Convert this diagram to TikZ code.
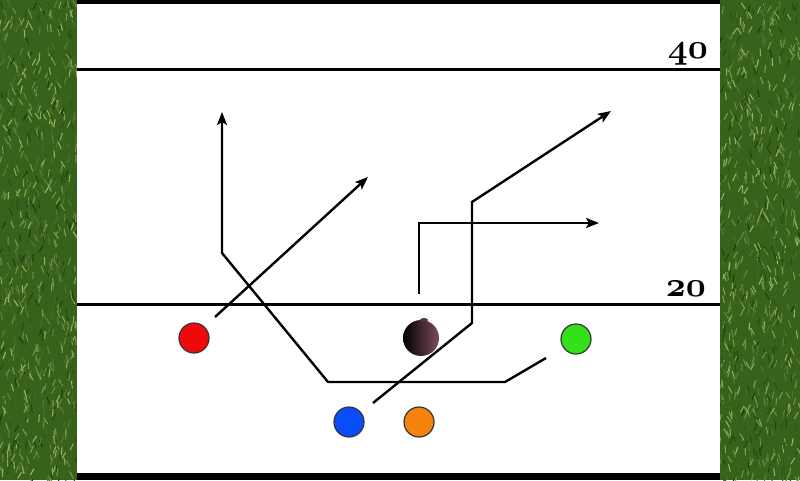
\documentclass[tikz,border=0pt]{standalone}
\usetikzlibrary{arrows.meta}
\definecolor{grassbase}{HTML}{36621C}
\definecolor{grasslight}{HTML}{9DBA60}
\definecolor{grassdark}{HTML}{163A0A}
\definecolor{pred}{HTML}{EE0A0A}
\definecolor{pblue}{HTML}{0A4CF5}
\definecolor{porange}{HTML}{F5830F}
\definecolor{pgreen}{HTML}{35E01A}
\definecolor{ballbrown}{HTML}{7E4A5E}
\newcommand{\yardtext}[1]{\scalebox{1.4}{\fontsize{24.88}{26}\usefont{OML}{cmm}{b}{it}#1}}
\tikzset{
  yardline/.style={line width=3pt, black},
  route/.style={line width=2.4pt, black, line join=miter},
  routearrow/.style={route, -{Stealth[length=13pt,width=10pt,inset=3pt]}},
  player/.style={circle, minimum size=30pt, inner sep=0pt, draw=black!80, line width=1.2pt},
  yardnum/.style={inner sep=0pt, anchor=base east},
}
\begin{document}
\begin{tikzpicture}[x=1pt,y=-1pt]
\useasboundingbox (0,0) rectangle (800,480);
% grass on both sides
\foreach \xa/\xb/\sd in {0/77/11,720/800/23}{
  \begin{scope}
    \clip (\xa,0) rectangle (\xb,480);
    \fill[grassbase] (\xa,0) rectangle (\xb,480);
    \pgfmathsetseed{\sd}
    \foreach \i in {1,...,800}{
      \pgfmathsetmacro\gx{\xa+rnd*(\xb-\xa)}
      \pgfmathsetmacro\gy{rnd*480}
      \pgfmathsetmacro\ga{55+rnd*70}
      \pgfmathsetmacro\gc{rnd*100}
      \draw[grasslight!\gc!grassdark, line width=1.1pt, line cap=round] (\gx,\gy) -- ++(\ga:7);
    }
  \end{scope}
}
% field
\fill[white] (77,0) rectangle (720,480);
\fill[black] (77,0) rectangle (720,4);
\fill[black] (77,473) rectangle (720,480);
\draw[yardline] (77,69) -- (720,69);
\draw[yardline] (77,304) -- (720,304);
\node[yardnum] (n40) at (708,58) {\yardtext{40}};
\node[yardnum] (n20) at (706,296) {\yardtext{20}};

% players
\node[player, fill=pred] (red) at (194,338) {};
\node[player, fill=pblue] (blue) at (349,422) {};
\node[player, fill=porange] (orange) at (419,422) {};
\node[player, fill=pgreen] (green) at (576,339) {};
% ball
\node[circle, minimum size=36pt, inner sep=0pt, left color=black, right color=ballbrown, shading angle=90] (ball) at (421,338) {};
\fill[ballbrown!70!black] (424,320) ellipse (4pt and 2pt);

% route points
\coordinate (r0) at (215,317);
\coordinate (r1) at (368,177);
\coordinate (g0) at (546,358);
\coordinate (g1) at (505,382);
\coordinate (g2) at (328,382);
\coordinate (g3) at (222,253);
\coordinate (g4) at (222,112);
\coordinate (b0) at (373,403);
\coordinate (b1) at (472,323);
\coordinate (b2) at (472,202);
\coordinate (b3) at (611,111);
\coordinate (c0) at (419,294);
\coordinate (c1) at (419,223);
\coordinate (c2) at (599,223);

\draw[routearrow] (r0) -- (r1);
\draw[routearrow] (g0) -- (g1) -- (g2) -- (g3) -- (g4);
\draw[routearrow] (b0) -- (b1) -- (b2) -- (b3);
\draw[routearrow] (c0) -- (c1) -- (c2);
\end{tikzpicture}
\end{document}
